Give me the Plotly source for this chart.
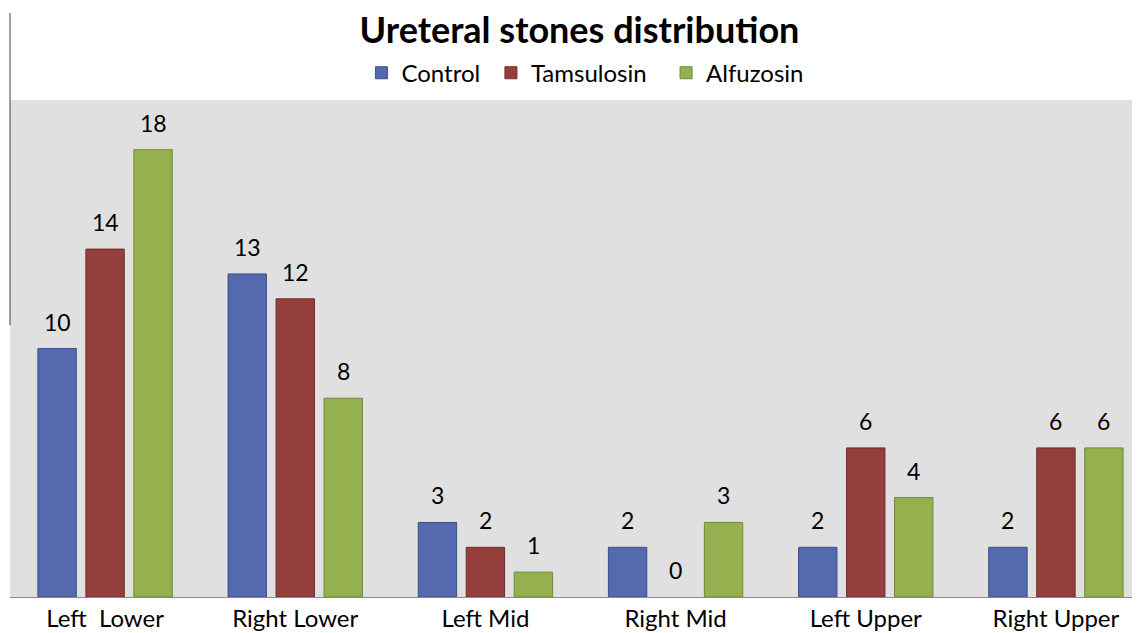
import plotly.graph_objects as go

categories = ["Left\u00a0 Lower", "Right Lower", "Left Mid", "Right Mid", "Left Upper", "Right Upper"]
control = [10, 13, 3, 2, 2, 2]
tamsulosin = [14, 12, 2, 0, 6, 6]
alfuzosin = [18, 8, 1, 3, 4, 6]

series = [
    ("Control", control, "#5469AE", "#3C4F88"),
    ("Tamsulosin", tamsulosin, "#953F3D", "#6E2D2C"),
    ("Alfuzosin", alfuzosin, "#94B04F", "#6E8A38"),
]

W, H = 1143, 625
ML, MR, MT, MB = 2, 0, 92, 36
BARGAP = 0.243
GROUPGAP = 0.2
FONT = "Lato, 'Open Sans', sans-serif"
legend_names = ["legend", "legend2", "legend3"]
legend_x = [0.308, 0.4215, 0.575]

fig = go.Figure()
for (name, vals, col, edge), lg in zip(series, legend_names):
    fig.add_trace(go.Bar(
        x=categories, y=vals, name=name, legend=lg,
        marker=dict(color=col, line=dict(color=edge, width=[0 if v == 0 else 1 for v in vals])),
    ))

# value labels placed above each bar
plot_w = W - ML - MR
slot = plot_w / len(categories) * (1 - BARGAP) / len(series)
for j, (name, vals, col, edge) in enumerate(series):
    for c, v in zip(categories, vals):
        fig.add_annotation(x=c, y=v, text=str(v), showarrow=False,
                           xshift=(j - (len(series) - 1) / 2) * slot, yshift=27,
                           yanchor="middle", font=dict(size=23, color="#000000", family=FONT))

legend_common = dict(orientation="h", xanchor="left", y=1.054, yanchor="middle",
                     font=dict(size=24), bgcolor="rgba(0,0,0,0)")
fig.update_layout(
    width=W, height=H,
    margin=dict(l=ML, r=MR, t=MT, b=MB),
    paper_bgcolor="white",
    plot_bgcolor="#E0E0E0",
    barmode="group",
    bargap=BARGAP,
    bargroupgap=GROUPGAP,
    font=dict(family=FONT, size=24, color="#000000"),
    title=dict(text="<b>Ureteral stones distribution</b>", x=0.5, xanchor="center",
               y=1 - 22 / H, yanchor="middle", font=dict(size=36, color="#000000")),
    legend=dict(x=legend_x[0], **legend_common),
    legend2=dict(x=legend_x[1], **legend_common),
    legend3=dict(x=legend_x[2], **legend_common),
    showlegend=True,
)
fig.update_xaxes(showline=True, linecolor="#8C8C8C", linewidth=1, ticks="",
                 tickfont=dict(size=24), showgrid=False)
fig.update_yaxes(range=[0, 20], showticklabels=False, showgrid=False, zeroline=False,
                 showline=False, ticks="")
fig.add_shape(type="line", xref="paper", yref="paper", x0=0, x1=0, y0=0.547, y1=1.175,
              line=dict(color="#404040", width=1))

fig.write_html("out.html")
